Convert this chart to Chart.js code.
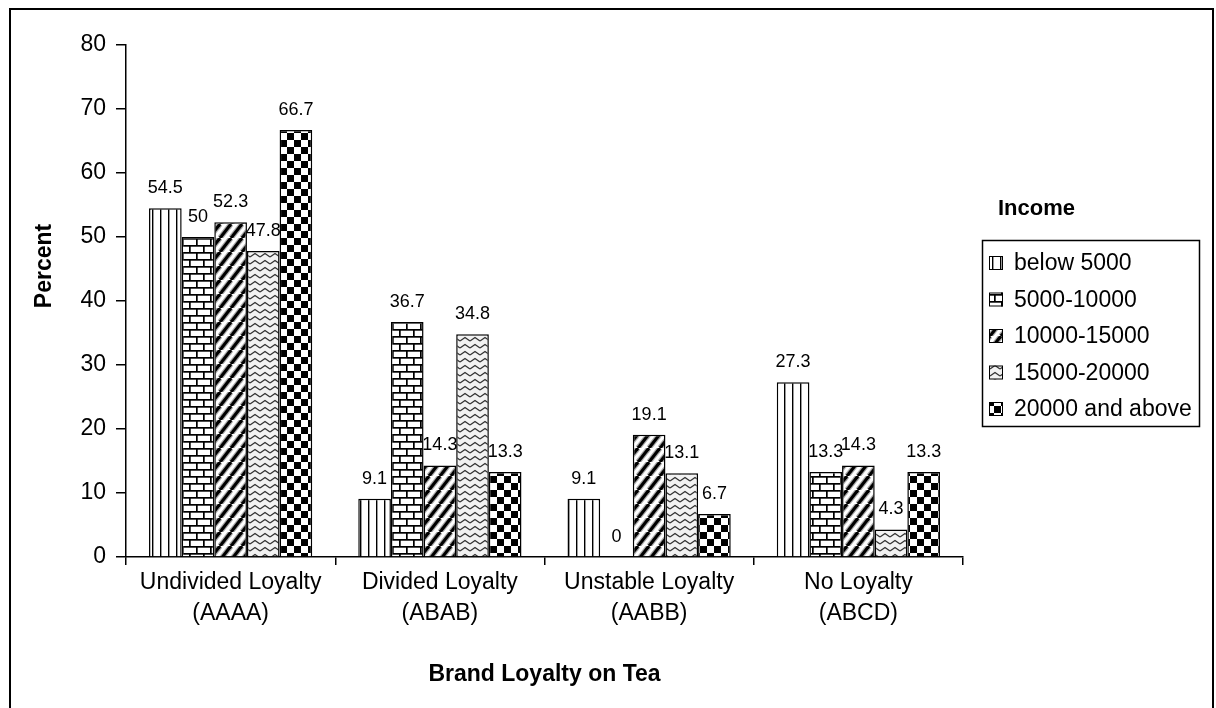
<!DOCTYPE html>
<html>
<head>
<meta charset="utf-8">
<script src="https://cdn.jsdelivr.net/npm/chart.js@4.4.0/dist/chart.umd.min.js"></script>
<style>
  html, body { margin: 0; padding: 0; background: #fff; }
</style>
</head>
<body>
<canvas id="loyaltyChart" width="1216" height="708"></canvas>
<script>
// categories on the x axis (two lines each)
const categories = [
  ['Undivided Loyalty', '(AAAA)'],
  ['Divided Loyalty', '(ABAB)'],
  ['Unstable Loyalty', '(AABB)'],
  ['No Loyalty', '(ABCD)']
];
const incomeGroups = ['below 5000', '5000-10000', '10000-15000', '15000-20000', '20000 and above'];

// percent per income group, in category order
const below5000 = [54.5, 9.1, 9.1, 27.3];
const from5000to10000 = [50, 36.7, 0, 13.3];
const from10000to15000 = [52.3, 14.3, 19.1, 14.3];
const from15000to20000 = [47.8, 34.8, 13.1, 4.3];
const above20000 = [66.7, 13.3, 6.7, 13.3];

const yTicks = [0, 10, 20, 30, 40, 50, 60, 70, 80];

Chart.defaults.font.family = '"Liberation Sans", Arial, sans-serif';
Chart.defaults.color = '#000';

function makePattern(w, h, draw) {
  const c = document.createElement('canvas');
  c.width = w;
  c.height = h;
  const g = c.getContext('2d');
  g.fillStyle = '#fff';
  g.fillRect(0, 0, w, h);
  draw(g, w, h);
  return g.createPattern(c, 'repeat');
}

// vertical lines
const vLines = makePattern(8, 8, (g) => {
  g.fillStyle = '#000';
  g.fillRect(0, 0, 1.4, 8);
});
// bricks
const bricks = makePattern(14, 14, (g) => {
  g.fillStyle = '#000';
  g.fillRect(0, 0, 14, 1.7);
  g.fillRect(0, 7, 14, 1.7);
  g.fillRect(0, 0, 1.7, 7);
  g.fillRect(7, 7, 1.7, 7);
});
// wide upward diagonal
const diagonal = makePattern(11, 14, (g, w, h) => {
  for (const pass of [[5.5, '#aaa'], [3.2, '#000']]) {
    g.lineWidth = pass[0];
    g.strokeStyle = pass[1];
    for (let k = -1; k <= 1; k++) {
      g.beginPath();
      g.moveTo(k * w, h);
      g.lineTo(k * w + w, 0);
      g.stroke();
    }
  }
});
// zigzag waves
const waves = makePattern(10, 7, (g) => {
  g.fillStyle = '#f2f2f2';
  g.fillRect(0, 0, 10, 7);
  g.strokeStyle = '#333';
  g.lineWidth = 1.3;
  g.beginPath();
  g.moveTo(0, 5);
  g.lineTo(5, 1.5);
  g.lineTo(10, 5);
  g.stroke();
});
// checkerboard
const checker = makePattern(14, 14, (g) => {
  g.fillStyle = '#000';
  g.fillRect(0, 0, 7, 7);
  g.fillRect(7, 7, 7, 7);
});

const seriesValues = [below5000, from5000to10000, from10000to15000, from15000to20000, above20000];
const fills = [vLines, bricks, diagonal, waves, checker];

const datasets = incomeGroups.map((name, i) => ({
  label: name,
  data: seriesValues[i],
  backgroundColor: fills[i],
  borderColor: '#000',
  borderWidth: 1.5,
  categoryPercentage: 0.78,
  barPercentage: 1.0
}));

// frame around the whole picture, and the y axis title
const frame = {
  id: 'frame',
  beforeDraw(chart) {
    const ctx = chart.ctx;
    ctx.save();
    ctx.fillStyle = '#fff';
    ctx.fillRect(0, 0, chart.width, chart.height);
    ctx.strokeStyle = '#000';
    ctx.lineWidth = 2;
    ctx.strokeRect(10, 9, 1203, 720);
    ctx.restore();
  },
  afterDraw(chart) {
    const ctx = chart.ctx;
    ctx.save();
    ctx.translate(45, 266);
    ctx.rotate(-Math.PI / 2);
    ctx.font = 'bold 23px "Liberation Sans", Arial, sans-serif';
    ctx.fillStyle = '#000';
    ctx.textAlign = 'center';
    ctx.textBaseline = 'middle';
    ctx.fillText('Percent', 0, 0);
    ctx.restore();
  }
};

// value above each bar
const barValueLabels = {
  id: 'barValueLabels',
  afterDatasetsDraw(chart) {
    const ctx = chart.ctx;
    ctx.save();
    ctx.font = '18px "Liberation Sans", Arial, sans-serif';
    ctx.fillStyle = '#000';
    ctx.textAlign = 'center';
    ctx.textBaseline = 'middle';
    chart.data.datasets.forEach((ds, i) => {
      chart.getDatasetMeta(i).data.forEach((bar, j) => {
        ctx.fillText(String(ds.data[j]), bar.x, bar.y - 20);
      });
    });
    ctx.restore();
  }
};

// boxed legend with "Income" heading above it
const legendBox = {
  id: 'legendBox',
  afterDraw(chart) {
    const ctx = chart.ctx;
    const left = chart.chartArea.right + 19;
    ctx.save();
    ctx.fillStyle = '#000';
    ctx.textBaseline = 'middle';
    ctx.font = 'bold 22px "Liberation Sans", Arial, sans-serif';
    ctx.fillText('Income', left + 16, 209);
    ctx.strokeStyle = '#000';
    ctx.lineWidth = 1.5;
    ctx.strokeRect(left + 0.5, 240.5, 217, 186);
    ctx.font = '23px "Liberation Sans", Arial, sans-serif';
    chart.data.datasets.forEach((ds, i) => {
      const y = 263 + i * 36.5;
      ctx.fillStyle = ds.backgroundColor;
      ctx.fillRect(left + 7, y - 7, 14, 14);
      ctx.lineWidth = 1;
      ctx.strokeRect(left + 7.5, y - 6.5, 13, 13);
      ctx.fillStyle = '#000';
      ctx.fillText(ds.label, left + 32, y + 1);
    });
    ctx.restore();
  }
};

new Chart(document.getElementById('loyaltyChart'), {
  type: 'bar',
  data: { labels: categories, datasets: datasets },
  options: {
    responsive: false,
    animation: false,
    devicePixelRatio: 1,
    layout: { padding: { left: 0, top: 45, right: 253, bottom: 0 } },
    plugins: {
      legend: { display: false },
      tooltip: { enabled: false }
    },
    scales: {
      x: {
        grid: { drawOnChartArea: false, tickLength: 8, color: '#000', lineWidth: 1.5, offset: true },
        border: { color: '#000', width: 1.5 },
        ticks: { color: '#000', font: { size: 23, lineHeight: 1.35 }, padding: 2, maxRotation: 0, autoSkip: false },
        title: {
          display: true,
          text: 'Brand Loyalty on Tea',
          color: '#000',
          font: { size: 23, weight: 'bold' },
          padding: { top: 0, bottom: 20 }
        },
        afterFit(scale) { scale.height = 151; }
      },
      y: {
        min: yTicks[0],
        max: yTicks[yTicks.length - 1],
        ticks: { stepSize: yTicks[1] - yTicks[0], color: '#000', font: { size: 23 }, padding: 10 },
        grid: { drawOnChartArea: false, tickLength: 10, color: '#000', lineWidth: 1.5 },
        border: { color: '#000', width: 1.5 },
        afterFit(scale) { scale.width = 126; }
      }
    }
  },
  plugins: [frame, barValueLabels, legendBox]
});
</script>
</body>
</html>
